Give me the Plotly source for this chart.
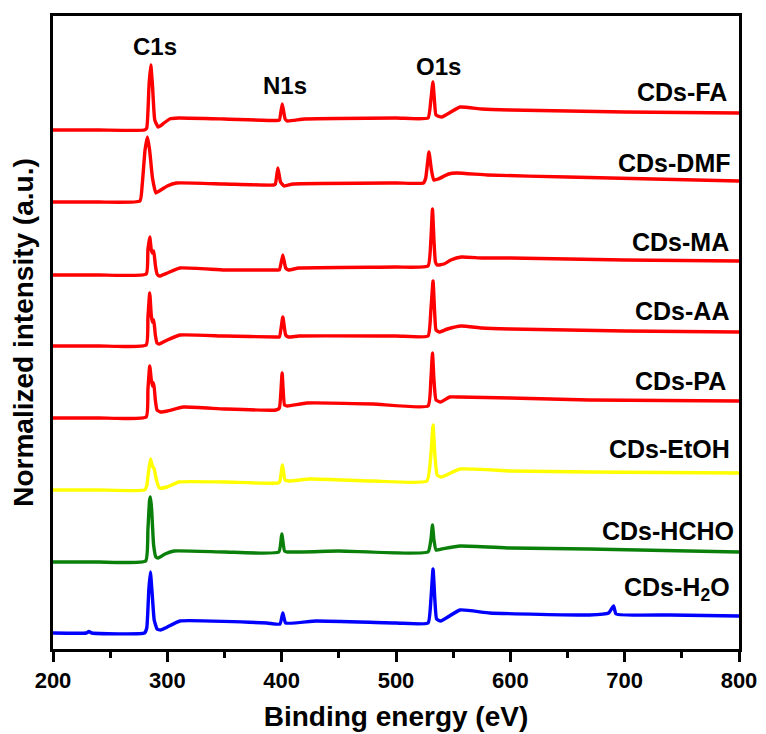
import plotly.graph_objects as go

# ---------------- data ----------------
series_names = ["CDs-FA", "CDs-DMF", "CDs-MA", "CDs-AA", "CDs-PA",
                "CDs-EtOH", "CDs-HCHO", "CDs-H<sub>2</sub>O"]

# binding energies (eV) and stacked normalized intensities (a.u.)
energy_FA = [200, 240, 280, 282, 284, 285.5, 287, 289, 292, 296, 302, 310, 350, 395, 398, 400.5, 403, 405, 420,
             500, 528, 530.5, 532.3, 533.6, 535, 540, 548, 556, 575, 600, 700, 800]
intens_FA = [520, 520, 520, 522, 565, 585, 565, 530, 523, 526, 531, 532, 531, 529.5, 530, 546, 531, 529, 531,
             532, 532, 550, 568, 550, 535, 533, 538, 543, 541, 540, 538, 537]

energy_DMF = [200, 240, 276, 278, 280.5, 282.6, 284.5, 287, 290, 293, 300, 308, 350, 393, 394.5, 396.7, 399, 402,
              410, 500, 524, 526, 528.8, 531, 533, 537, 546, 553, 580, 650, 800]
intens_DMF = [448, 448, 449, 465, 500, 513, 500, 472, 457, 459, 464, 467, 466, 465, 466, 482, 468, 464,
              466, 467, 467, 472, 498, 480, 470, 471, 476, 477, 475, 473, 469]

energy_MA = [200, 240, 281.5, 283, 284.6, 286, 287, 288.1, 289.5, 291, 293, 300, 311, 350, 395, 398, 401, 403.5,
             406, 415, 500, 528, 530.5, 531.9, 533.2, 534.5, 536, 542, 548, 557, 575, 600, 700, 800]
intens_MA = [375, 375, 376, 400, 413, 400, 397, 399, 385, 376, 374, 377, 382, 380, 380, 380, 395, 382,
             380, 382, 383, 384, 410, 441, 410, 388, 385, 386, 390, 393, 392, 392, 390, 389]

energy_AA = [200, 240, 281.5, 283, 284.6, 286, 287, 288.1, 289.5, 291, 293, 300, 311, 350, 395, 398, 401, 403.5,
             406, 415, 500, 528, 530.5, 532.4, 533.7, 535, 538, 545, 557, 575, 600, 700, 800]
intens_AA = [304, 304, 305, 332, 357, 334, 328, 330, 315, 307, 306, 310, 315, 314, 313, 313, 333, 315,
             313, 314, 314, 314, 340, 369, 340, 320, 318, 321, 324, 322, 321, 319, 318]

energy_PA = [200, 240, 281.5, 283, 284.6, 286, 287, 288.1, 289.5, 291, 294, 300, 314, 350, 395, 398, 400.4, 402.5,
             405, 422, 480, 528, 530.5, 531.9, 533.2, 535, 539, 547, 555, 600, 669, 800]
intens_PA = [232, 232, 233, 260, 284, 270, 264, 267, 250, 240, 238, 239, 243, 241, 240, 242, 277, 245,
             244, 247, 246, 244, 270, 297, 270, 250, 248, 253, 253, 252, 250, 249]

energy_EtOH = [200, 240, 280, 282, 283.5, 285.3, 287, 288.5, 290.5, 293, 300, 310, 350, 397, 398.5, 400.7, 403,
               407, 425, 480, 527, 530.5, 532.4, 534, 536, 539.6, 556, 600, 669, 800]
intens_EtOH = [160, 160, 160, 164, 178, 191, 184, 181, 170, 162, 163, 168, 168, 167, 169, 185, 170,
               169, 171, 169, 169, 195, 225, 195, 175, 173, 181, 179, 178, 177]

energy_HCHO = [200, 240, 281, 283, 284.5, 285.3, 286.3, 288, 290, 292, 298, 306, 350, 397.5, 400.1, 402.5, 405,
               450, 528, 530.5, 531.9, 533.2, 535, 540, 556, 600, 669, 800]
intens_HCHO = [88, 88, 89, 120, 150, 153, 140, 105, 93, 92, 96, 99, 98, 98, 116, 99, 98,
               99, 98, 110, 125, 110, 100, 101, 104, 102, 101, 98]

energy_H2O = [200, 229, 231.4, 234, 280, 282, 283.8, 285.2, 286.5, 288.5, 291, 294, 300, 311, 387, 398.5, 401,
              403.5, 430, 500, 528, 530.5, 532.4, 534, 535.5, 539, 556, 582, 669, 686, 690.3, 692.5, 740, 800]
intens_H2O = [17, 17, 18.5, 17, 17, 22, 60, 78, 60, 30, 21, 20, 23, 29, 27, 26, 37,
              27, 29, 27, 27, 50, 81, 50, 31, 29, 40, 37, 35, 37, 44, 36, 35, 34]

energies = [energy_FA, energy_DMF, energy_MA, energy_AA, energy_PA, energy_EtOH, energy_HCHO, energy_H2O]
intensities = [intens_FA, intens_DMF, intens_MA, intens_AA, intens_PA, intens_EtOH, intens_HCHO, intens_H2O]
colors = ["#FF0000", "#FF0000", "#FF0000", "#FF0000", "#FF0000", "#FFFF00", "#0A800A", "#0000FF"]

# label anchor (right end, eV) and level (intensity axis) for the series names
label_energies = [791, 795, 793, 793, 790.5, 793.5, 797, 793.5]
label_levels = [558, 487, 408, 339, 269, 201, 119, 61]

peak_names = ["C1s", "N1s", "O1s"]
peak_energies = [289.5, 402.5, 537]
peak_levels = [604, 565, 584]

x_ticks = [200, 300, 400, 500, 600, 700, 800]

FONT = "Liberation Sans, Arial, Helvetica, sans-serif"

fig = go.Figure()
for e, v, c, n in zip(energies, intensities, colors, series_names):
    fig.add_trace(go.Scatter(x=e, y=v, mode="lines", name=n,
                             line=dict(color=c, width=3.4, shape="spline", smoothing=0.4),
                             showlegend=False, hoverinfo="skip"))

annotations = []
for n, le, lv in zip(series_names, label_energies, label_levels):
    annotations.append(dict(x=le, y=lv, xref="x", yref="y", text=n, showarrow=False,
                            xanchor="right", yanchor="middle",
                            font=dict(family=FONT, size=25, color="black", weight="bold")))
for n, e, lv in zip(peak_names, peak_energies, peak_levels):
    annotations.append(dict(x=e, y=lv, xref="x", yref="y", text=n, showarrow=False,
                            xanchor="center", yanchor="middle",
                            font=dict(family=FONT, size=24, color="black", weight="bold")))

fig.update_layout(
    width=758, height=726,
    margin=dict(l=45, r=27, t=8, b=85, autoexpand=False),
    paper_bgcolor="white", plot_bgcolor="white",
    font=dict(family=FONT, color="black"),
    annotations=annotations,
    xaxis=dict(range=[200, 800], tickvals=x_ticks, ticktext=[str(t) for t in x_ticks],
               ticks="outside", ticklen=10, tickwidth=3, tickcolor="black",
               minor=dict(ticks="outside", ticklen=6, tickwidth=3, tickcolor="black", dtick=50, tick0=200),
               showline=True, linewidth=3, linecolor="black", mirror=True,
               showgrid=False, zeroline=False, automargin=False,
               tickfont=dict(family=FONT, size=22, color="black", weight="bold"),
               title=dict(text="Binding energy (eV)", standoff=14,
                          font=dict(family=FONT, size=28, color="black", weight="bold"))),
    yaxis=dict(range=[1, 634], showticklabels=False, ticks="",
               showline=True, linewidth=3, linecolor="black", mirror=True,
               showgrid=False, zeroline=False, automargin=False,
               title=dict(text="Normalized intensity (a.u.)", standoff=10,
                          font=dict(family=FONT, size=28, color="black", weight="bold"))),
)

fig.write_html("out.html")
